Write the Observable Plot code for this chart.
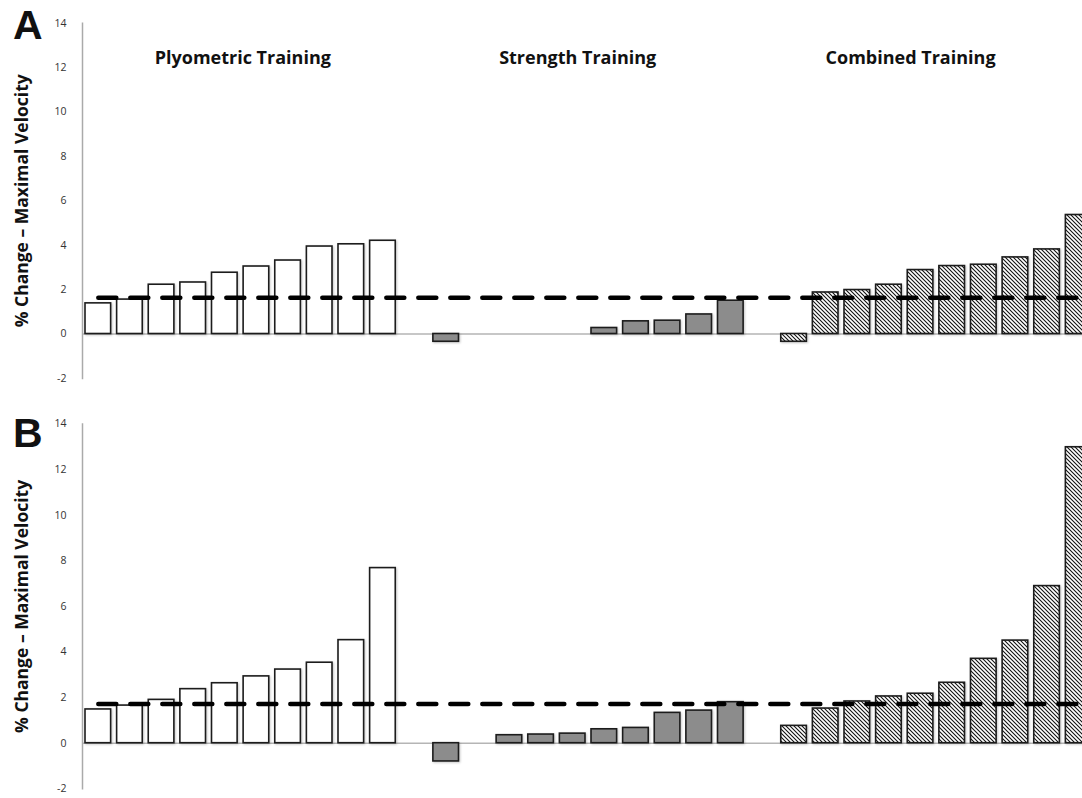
<!DOCTYPE html>
<html><head><meta charset="utf-8">
<script src="https://cdn.jsdelivr.net/npm/d3@7"></script>
<script src="https://cdn.jsdelivr.net/npm/@observablehq/plot@0.6"></script>
<style>
html,body{margin:0;padding:0;background:#fff;overflow:hidden;}
#wrap{position:relative;width:1082px;height:798px;overflow:hidden;background:#fff;}
.panel{position:absolute;left:0;width:1094px;}
.panel svg{max-width:none !important;display:block;}
.letter{position:absolute;left:13px;font:bold 41px "Liberation Sans",Arial,sans-serif;line-height:1;color:#111;}
g[aria-label="bar"] rect{filter:drop-shadow(1px 1.5px 1px rgba(0,0,0,0.22));}
</style></head><body>
<svg width="0" height="0" style="position:absolute">
  <defs>
    <pattern id="hatch" patternUnits="userSpaceOnUse" width="4" height="4">
      <rect width="4" height="4" fill="#fff"></rect>
      <path d="M-1,-1 L5,5 M3,-1 L5,1 M-1,3 L1,5" stroke="#111" stroke-width="1.1"></path>
    </pattern>
  </defs>
</svg>
<div id="wrap">
  <div id="pA" class="panel" style="top:0"></div>
  <div id="pB" class="panel" style="top:400px"></div>
  <div class="letter" style="top:5px">A</div>
  <div class="letter" style="top:413px">B</div>
</div>
<script>
// ---- data ----
const plyometricA = [1.38, 1.55, 2.22, 2.32, 2.76, 3.04, 3.31, 3.94, 4.04, 4.20];
const strengthA   = [-0.35, 0, 0, 0, 0, 0.27, 0.57, 0.60, 0.88, 1.50];
const combinedA   = [-0.35, 1.87, 1.98, 2.22, 2.88, 3.06, 3.12, 3.45, 3.81, 5.36];
const meanA = 1.63;

const plyometricB = [1.48, 1.65, 1.90, 2.37, 2.63, 2.93, 3.23, 3.53, 4.52, 7.68];
const strengthB   = [-0.80, 0, 0.35, 0.38, 0.42, 0.61, 0.67, 1.33, 1.43, 1.80];
const combinedB   = [0.76, 1.52, 1.83, 2.05, 2.17, 2.65, 3.70, 4.50, 6.89, 12.98];
const meanB = 1.72;

const groupTitles = ["Plyometric Training", "Strength Training", "Combined Training"];
const yTicks = [-2, 0, 2, 4, 6, 8, 10, 12, 14];
const yLabel = "% Change – Maximal Velocity";

// slot keys: 10 plyometric, gap, 10 strength, gap, 10 combined
const keys = (p) => d3.range(1, 11).map(i => p + i);
const slots = [...keys("P"), "gap1", ...keys("S"), "gap2", ...keys("C")];
const rows = (arr, p) => arr.map((v, i) => ({slot: p + (i + 1), value: v}));

const FONT = "'Open Sans', 'DejaVu Sans', sans-serif";

function panel(plyo, str, comb, mean, cfg) {
  const barStyle = {x: "slot", y: "value", stroke: "#1c1c1c", strokeWidth: 1.6};
  const marks = [
    Plot.ruleY([0], {stroke: "#b5b5b5", strokeWidth: 1.5}),
    Plot.frame({anchor: "left", stroke: "#aaa", strokeWidth: 1.5}),
    Plot.axisY({ticks: yTicks, tickSize: 0, tickPadding: 16, tickFormat: d => String(d),
                label: null, fontSize: 10.5, fill: "#333"}),
    Plot.barY(rows(plyo, "P"), {...barStyle, fill: "white"}),
    Plot.barY(rows(str, "S"), {...barStyle, fill: "#8c8c8c"}),
    Plot.barY(rows(comb, "C"), {...barStyle, fill: "url(#hatch)"}),
    Plot.lineY([{slot: "P1", value: mean}, {slot: "C10", value: mean}],
               {x: "slot", y: "value", stroke: "#000", strokeWidth: 4.5,
                strokeDasharray: "18,14", strokeLinecap: "round"}),
    Plot.text([yLabel], {text: d => d, frameAnchor: "left", rotate: -90, dx: -60,
                         textAnchor: "middle", lineAnchor: "middle",
                         fontWeight: "bold", fontSize: 17.5, fill: "#111"})
  ];
  if (cfg.titles) {
    const anchors = ["P5", "S5", "C5"];
    const shifts = [18, 5, -10];
    groupTitles.forEach((t, i) => {
      marks.push(Plot.text([{t, slot: anchors[i]}], {x: "slot", text: "t", frameAnchor: "top",
        lineAnchor: "middle", dy: 35.5, dx: shifts[i], fontWeight: "bold", fontSize: 18, fill: "#111"}));
    });
  }
  return Plot.plot({
    width: 1094, height: cfg.height,
    marginLeft: 82, marginRight: 0, marginTop: cfg.mt, marginBottom: cfg.mb,
    style: {fontFamily: FONT, background: "transparent", overflow: "visible", maxWidth: "none"},
    x: {type: "band", domain: slots, paddingInner: 0.19, paddingOuter: 0.095, round: false, axis: null},
    y: {domain: [-2, 14], axis: null},
    marks
  });
}

document.getElementById("pA").append(
  panel(plyometricA, strengthA, combinedA, meanA, {height: 400, mt: 22.7, mb: 22.1, titles: true}));
document.getElementById("pB").append(
  panel(plyometricB, strengthB, combinedB, meanB, {height: 398, mt: 23.5, mb: 9.7, titles: false}));
</script>
</body></html>
